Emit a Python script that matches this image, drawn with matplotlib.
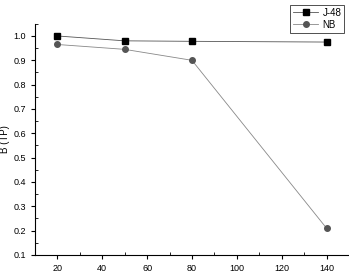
import matplotlib
matplotlib.use("Agg")
import matplotlib.pyplot as plt
from matplotlib.ticker import MultipleLocator

x_vals = [20, 50, 80, 140]
j48 = [1.0, 0.98, 0.978, 0.975]
nb = [0.965, 0.945, 0.9, 0.21]
series_names = ["J-48", "NB"]

plt.rcParams['font.family'] = ['Liberation Sans', 'DejaVu Sans']
fig = plt.figure(figsize=(3.49, 2.72), dpi=100)
ax = fig.add_axes([0.100, 0.0625, 0.900, 0.85])
ax.plot(x_vals, j48, color='#555555', lw=0.6, marker='s', ms=4,
        mfc='black', mec='black', label=series_names[0])
ax.plot(x_vals, nb, color='#888888', lw=0.6, marker='o', ms=4,
        mfc='#555555', mec='#555555', label=series_names[1])
ax.set_xlim(10, 150)
ax.set_ylim(0.1, 1.05)
ax.xaxis.set_major_locator(MultipleLocator(20))
ax.xaxis.set_minor_locator(MultipleLocator(10))
ax.yaxis.set_major_locator(MultipleLocator(0.1))
ax.yaxis.set_minor_locator(MultipleLocator(0.05))
ax.yaxis.set_major_formatter(matplotlib.ticker.FormatStrFormatter('%.1f'))
for s in ['top', 'right']:
    ax.spines[s].set_visible(False)
ax.tick_params(axis='both', which='major', labelsize=6.5, length=3, width=0.8, direction='out')
ax.tick_params(axis='both', which='minor', length=2, width=0.6, direction='in')
ax.set_ylabel("B (TP)", fontsize=7, labelpad=2)
leg = fig.legend(loc='upper right', bbox_to_anchor=(1.0, 1.0), fontsize=7,
                 frameon=True, fancybox=False, edgecolor='black',
                 handlelength=2.6, borderpad=0.3, labelspacing=0.2, handletextpad=0.4)
leg.get_frame().set_linewidth(0.6)
fig.savefig("out.png", dpi=100)
